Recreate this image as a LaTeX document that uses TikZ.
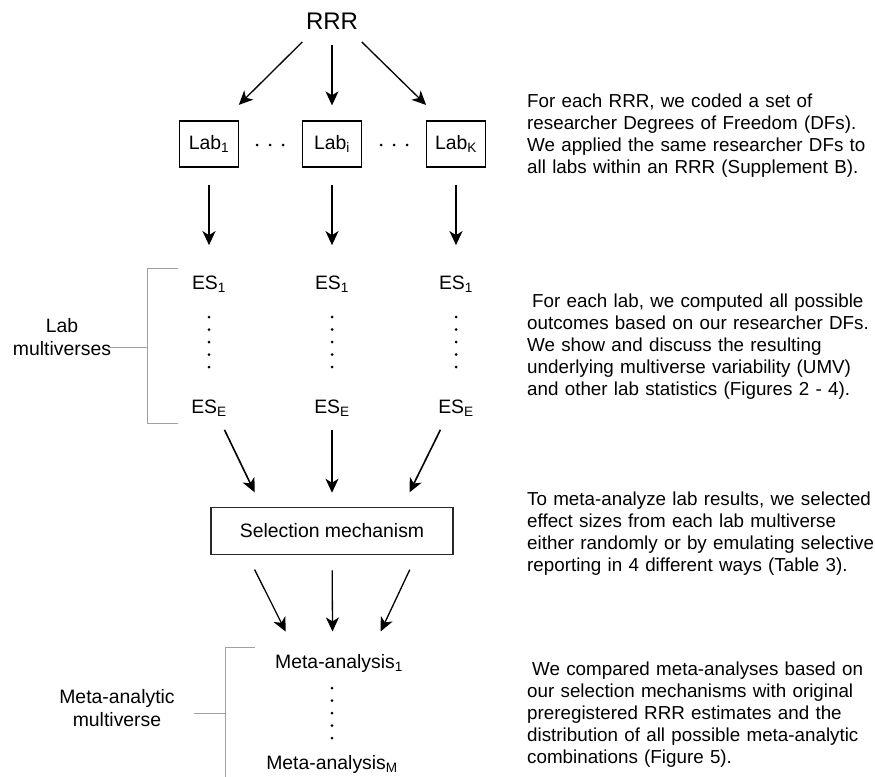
\documentclass[tikz,border=0pt]{standalone}
\usepackage{fontspec}
\setmainfont{Liberation Sans}
\usetikzlibrary{arrows.meta}
\definecolor{bracketgray}{RGB}{160,160,160}
\definecolor{boxgray}{RGB}{40,40,40}

\begin{document}
\begin{tikzpicture}[x=1pt, y=-1pt,
    >={Stealth[length=14pt, width=13pt, inset=4pt]},
    every node/.style={font=\fontsize{19.4}{22}\selectfont},
    labbox/.style={draw, line width=1.3pt, minimum width=59pt, minimum height=46pt},
    note/.style={anchor=base west, text width=420pt, align=left, inner sep=0pt,
                 font=\fontsize{18.8}{22.2}\selectfont},
    sidelabel/.style={align=center, font=\fontsize{19.4}{23.7}\selectfont},
    arr/.style={->, line width=1.3pt},
    bigarr/.style={->, line width=2pt},
    bracket/.style={draw=bracketgray, line width=1pt}]
                    \useasboundingbox (0,0) rectangle (875,776);

                    \node[font=\fontsize{24}{28}\selectfont] (rrr) at (332,21) {RRR};
                    \node[labbox] (lab1) at (209,144) {Lab\textsubscript{1}};
                    \node[labbox] (labi) at (332,144) {Lab\textsubscript{i}};
                    \node[labbox] (labk) at (456,144) {Lab\textsubscript{K}};

                    \node (es1a) at (209,284) {ES\textsubscript{1}};
                    \node (es1b) at (332,284) {ES\textsubscript{1}};
                    \node (es1c) at (456,284) {ES\textsubscript{1}};
                    \node (esea) at (209,408) {ES\textsubscript{E}};
                    \node (eseb) at (332,408) {ES\textsubscript{E}};
                    \node (esec) at (456,408) {ES\textsubscript{E}};

                    \node[draw=boxgray, line width=1.5pt, minimum width=242pt, minimum height=47pt] (sel) at (332,531) {Selection mechanism};

                    \node (meta1) at (339,663) {Meta-analysis\textsubscript{1}};
                    \node (metam) at (332,764) {Meta-analysis\textsubscript{M}};

                    \node[sidelabel] (labmv) at (62,337) {Lab\\multiverses};
                    \node[sidelabel] (metamv) at (117,708) {Meta-analytic\\multiverse};

                    % ellipsis dots
                    \foreach \x in {257,270,283,381,394,407}
                        \fill (\x,145) circle (1.5pt);
                    \foreach \x in {209,332,456}
                        \foreach \y in {317,329.5,...,368}
                            \fill (\x,\y) circle (1.5pt);
                    \foreach \y in {688,700.5,...,739}
                        \fill (332,\y) circle (1.5pt);

                    \draw[arr, shorten <=13pt, shorten >=22pt] (rrr.210) -- (lab1.59);
                    \draw[arr, shorten <=12pt, shorten >=15pt] (rrr) -- (labi);
                    \draw[arr, shorten <=13pt, shorten >=22pt] (rrr.330) -- (labk.121);

                    \draw[bigarr, shorten <=17pt, shorten >=27pt] (lab1) -- (es1a);
                    \draw[bigarr, shorten <=17pt, shorten >=27pt] (labi) -- (es1b);
                    \draw[bigarr, shorten <=17pt, shorten >=27pt] (labk) -- (es1c);

                    \draw[arr, line width=1.6pt, shorten <=11pt, shorten >=16pt] (esea.312) -- (sel.161);
                    \draw[arr, line width=1.6pt, shorten <=10pt, shorten >=14pt] (eseb) -- (sel);
                    \draw[arr, line width=1.6pt, shorten <=11pt, shorten >=16pt] (esec.228) -- (sel.19);

                    \draw[arr, shorten <=16pt, shorten >=21pt] (sel.196) -- (meta1.164);
                    \draw[arr, shorten <=15pt, shorten >=19pt] (sel) -- (meta1.117);
                    \draw[arr, shorten <=16pt, shorten >=21pt] (sel.344) -- (meta1.21);

                    \draw[bracket] (178,268) -- (147,268) -- (147,423) -- (178,423);
                    \draw[bracket] (108,347) -- (147,347);
                    \draw[bracket] (255,647) -- (225,647) -- (225,780);
                    \draw[bracket] (194,713) -- (225,713);

                    \node[note] (note1) at (527,107) {For each RRR, we coded a set of\\researcher Degrees of Freedom (DFs).\\We applied the same researcher DFs to\\all labs within an RRR (Supplement B).};
                    \node[note] (note2) at (527,307) {\hspace*{5pt}For each lab, we computed all possible\\outcomes based on our researcher DFs.\\We show and discuss the resulting\\underlying multiverse variability (UMV)\\and other lab statistics (Figures 2 - 4).};
                    \node[note] (note3) at (527,505) {To meta-analyze lab results, we selected\\effect sizes from each lab multiverse\\either randomly or by emulating selective\\reporting in 4 different ways (Table 3).};
                    \node[note] (note4) at (527,675) {\hspace*{5pt}We compared meta-analyses based on\\our selection mechanisms with original\\preregistered RRR estimates and the\\distribution of all possible meta-analytic\\combinations (Figure 5).};
                \end{tikzpicture}
\end{document}
